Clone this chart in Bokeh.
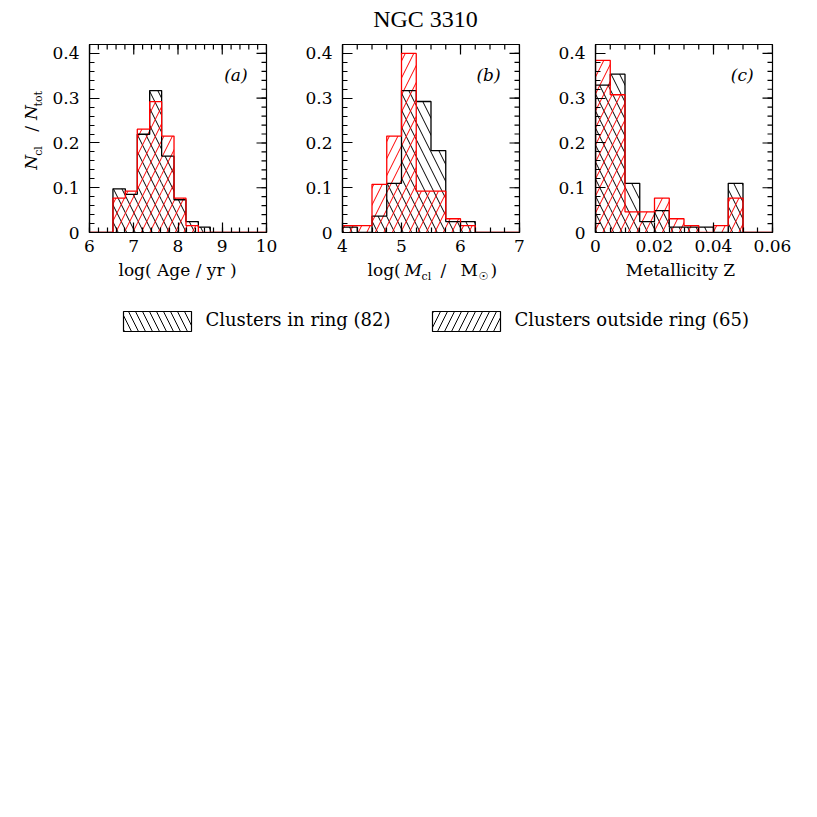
import numpy as np
from bokeh.plotting import figure
from bokeh.layouts import column, row
from bokeh.models import Range1d, FixedTicker, Label
from bokeh.core.properties import value
from bokeh.embed import file_html
from bokeh.resources import INLINE

# ---------------- data ----------------
TITLE = "NGC 3310"
N_RING = 82
N_OUT = 65

AGE_EDGES = [6.53, 6.81, 7.08, 7.36, 7.63, 7.91, 8.18, 8.46, 8.73]
AGE_RING = [8, 7, 18, 26, 14, 6, 2, 1]
AGE_OUT = [5, 6, 15, 19, 14, 5, 1, 0]

MASS_EDGES = [4.0, 4.25, 4.5, 4.75, 5.0, 5.25, 5.5, 5.75, 6.0, 6.25]
MASS_RING = [1, 0, 3, 9, 26, 24, 15, 2, 2]
MASS_OUT = [1, 1, 7, 14, 26, 6, 6, 2, 1]

Z_EDGES = [0.0, 0.005, 0.01, 0.015, 0.02, 0.025, 0.03, 0.035, 0.04, 0.045, 0.05]
Z_RING = [27, 29, 9, 2, 4, 1, 1, 1, 0, 9]
Z_OUT = [25, 20, 3, 3, 5, 2, 1, 0, 1, 5]

Y_TICKS = [0, 0.1, 0.2, 0.3, 0.4]
Y_TICK_LABELS = ["0", "0.1", "0.2", "0.3", "0.4"]
AGE_TICKS = [6, 7, 8, 9, 10]
AGE_TICK_LABELS = ["6", "7", "8", "9", "10"]
MASS_TICKS = [4, 5, 6, 7]
MASS_TICK_LABELS = ["4", "5", "6", "7"]
Z_TICKS = [0, 0.02, 0.04, 0.06]
Z_TICK_LABELS = ["0", "0.02", "0.04", "0.06"]

LABEL_RING = "Clusters in ring (%d)" % N_RING
LABEL_OUT = "Clusters outside ring (%d)" % N_OUT

FONT = "DejaVu Serif"
FW, FH = 177, 188
YMAX = 0.42
MAJ, MIN = 10, 5  # tick lengths in px
BASE_SHIFT = 0.42  # empirical alphabetic-baseline correction (em)
BORDER_BOTTOM = 27
HATCH = 17


def minor(lo, hi, step):
    n = int(round((hi - lo) / step))
    return [lo + i * step for i in range(n + 1)]


def style_axis(ax, ticks, labels, minor_ticks):
    ax.ticker = FixedTicker(ticks=ticks, minor_ticks=minor_ticks)
    ax.major_label_overrides = {t: l for t, l in zip(ticks, labels)}
    ax.major_tick_in = MAJ
    ax.major_tick_out = 0
    ax.minor_tick_in = MIN
    ax.minor_tick_out = 0
    ax.major_tick_line_color = "black"
    ax.minor_tick_line_color = "black"
    ax.major_tick_line_width = 1.2
    ax.minor_tick_line_width = 1.2
    ax.axis_line_color = "black"
    ax.axis_line_width = 1.2
    ax.major_label_text_font = FONT
    ax.major_label_text_font_size = "17px"
    ax.major_label_text_color = "black"


def step_xy(edges, heights, xr):
    xs = [xr[0], edges[0]]
    ys = [0, 0]
    for i, h in enumerate(heights):
        xs += [edges[i], edges[i + 1]]
        ys += [h, h]
    xs += [edges[-1], xr[1]]
    ys += [0, 0]
    return xs, ys


def panel(xr, xticks, xlabels, xstep, edges, ring, out, tag, left, right):
    p = figure(frame_width=FW, frame_height=FH, x_range=Range1d(*xr), y_range=Range1d(0, YMAX),
               output_backend="svg", toolbar_location=None, title=None,
               min_border_left=left, min_border_right=right, min_border_top=10,
               min_border_bottom=BORDER_BOTTOM,
               background_fill_color="white", border_fill_color="white",
               outline_line_color="black", outline_line_width=1.2)
    p.grid.visible = False
    xminor = minor(xr[0], xr[1], xstep)
    yminor = minor(0, YMAX, 0.02)
    style_axis(p.xaxis[0], xticks, xlabels, xminor)
    p.xaxis[0].major_label_standoff = 7
    style_axis(p.yaxis[0], Y_TICKS, Y_TICK_LABELS, yminor)
    p.yaxis[0].major_label_standoff = 10

    # mirrored ticks on the top and right edges of the frame
    dx = (xr[1] - xr[0]) / FW
    dy = YMAX / FH
    for ticks, ln in [(xticks, MAJ), (xminor, MIN)]:
        p.segment(x0=ticks, x1=ticks, y0=[YMAX] * len(ticks), y1=[YMAX - ln * dy] * len(ticks),
                  line_color="black", line_width=1.2)
    for ticks, ln in [(Y_TICKS, MAJ), (yminor, MIN)]:
        p.segment(x0=[xr[1]] * len(ticks), x1=[xr[1] - ln * dx] * len(ticks), y0=ticks, y1=ticks,
                  line_color="black", line_width=1.2)

    ring_f = [c / N_RING for c in ring]
    out_f = [c / N_OUT for c in out]
    p.quad(left=edges[:-1], right=edges[1:], bottom=0, top=ring_f, fill_color=None, line_color=None,
           hatch_pattern="\\", hatch_color="black", hatch_scale=HATCH, hatch_weight=1)
    p.quad(left=edges[:-1], right=edges[1:], bottom=0, top=out_f, fill_color=None, line_color=None,
           hatch_pattern="/", hatch_color="red", hatch_scale=HATCH, hatch_weight=1)
    xs, ys = step_xy(edges, ring_f, xr)
    p.line(xs, ys, line_color="black", line_width=1.3)
    xs, ys = step_xy(edges, out_f, xr)
    p.line(xs, ys, line_color="red", line_width=1.3)

    # panel tag, baseline ~150 px above the frame bottom
    p.add_layout(Label(x=xr[0] + 0.893 * (xr[1] - xr[0]), y=(150 + BASE_SHIFT * 17) * dy, text=tag,
                       text_align="right", text_baseline="alphabetic", text_font=FONT,
                       text_font_style="italic", text_font_size="17px", text_color="black"))
    return p


def blank(w, h, x0, x1, ytop, ybot):
    p = figure(width=w, height=h, x_range=Range1d(x0, x1), y_range=Range1d(ybot, ytop),
               output_backend="svg", toolbar_location=None, x_axis_type=None, y_axis_type=None,
               title=None, min_border=0, outline_line_color=None, background_fill_color="white",
               border_fill_color="white")
    p.grid.visible = False
    return p


def txt(p, x, y, s, size=17, style="normal", align="left", font=FONT):
    p.text(x=[x], y=[y - BASE_SHIFT * size], text=[s], text_font=value(font),
           text_font_size="%dpx" % size, text_font_style=style, text_align=align,
           text_baseline="alphabetic", text_color="black")


def vtxt(p, xc, yc, s, size=17, style="normal"):
    # rotated text, anchored at the centre of its box
    p.text(x=[xc], y=[yc], text=[s], text_font=value(FONT), text_font_size="%dpx" % size,
           text_font_style=style, text_align="center", text_baseline="middle",
           angle=np.pi / 2, text_color="black")


# ---------------- title (figure coordinates = page pixels) ----------------
title_fig = blank(802, 34, 0, 802, 0, 34)
txt(title_fig, 425, 29, TITLE, size=24, align="center", font="Liberation Serif")

# ---------------- y label ----------------
PANEL_H = 10 + FH + BORDER_BOTTOM
ylab = blank(48, PANEL_H, 0, 48, 34, 34 + PANEL_H)
vtxt(ylab, 30, 175, "N", style="italic")
vtxt(ylab, 37.5, 161.5, "cl", size=11)
vtxt(ylab, 30, 135, "/")
vtxt(ylab, 30, 115.5, "N", style="italic")
vtxt(ylab, 37.5, 99, "tot", size=11)

# ---------------- panels ----------------
fa = panel((6, 10), AGE_TICKS, AGE_TICK_LABELS, 0.2, AGE_EDGES, AGE_RING, AGE_OUT, "(a)", 41, 16)
fb = panel((4, 7), MASS_TICKS, MASS_TICK_LABELS, 0.25, MASS_EDGES, MASS_RING, MASS_OUT, "(b)", 60, 16)
fc = panel((0, 0.06), Z_TICKS, Z_TICK_LABELS, 0.005, Z_EDGES, Z_RING, Z_OUT, "(c)", 60, 30)

# ---------------- x labels + legend ----------------
BT = 34 + PANEL_H
bot = blank(802, 352 - BT, 0, 802, BT, 352)
txt(bot, 177, 277, "log( Age / yr )", align="center")
txt(bot, 367, 277, "log(")
txt(bot, 404, 277, "M", style="italic")
txt(bot, 421, 281, "cl", size=11)
txt(bot, 440, 277, "/")
txt(bot, 460, 277, "M")
txt(bot, 478, 281, "\u2609", size=11, font="DejaVu Sans")
txt(bot, 490, 277, ")")
txt(bot, 680, 277, "Metallicity Z", align="center")

# legend swatches and labels
for pat, lab, bx in [("\\", LABEL_RING, 123), ("/", LABEL_OUT, 432)]:
    bot.quad(left=[bx], right=[bx + 68], top=[311], bottom=[331], fill_color=None,
             line_color="black", line_width=1.2, hatch_pattern=pat, hatch_color="black",
             hatch_scale=14, hatch_weight=1)
    txt(bot, bx + 82, 327, lab, size=18)

layout = column(title_fig, row(ylab, fa, fb, fc), bot)
open("out.html", "w").write(file_html(layout, INLINE))
